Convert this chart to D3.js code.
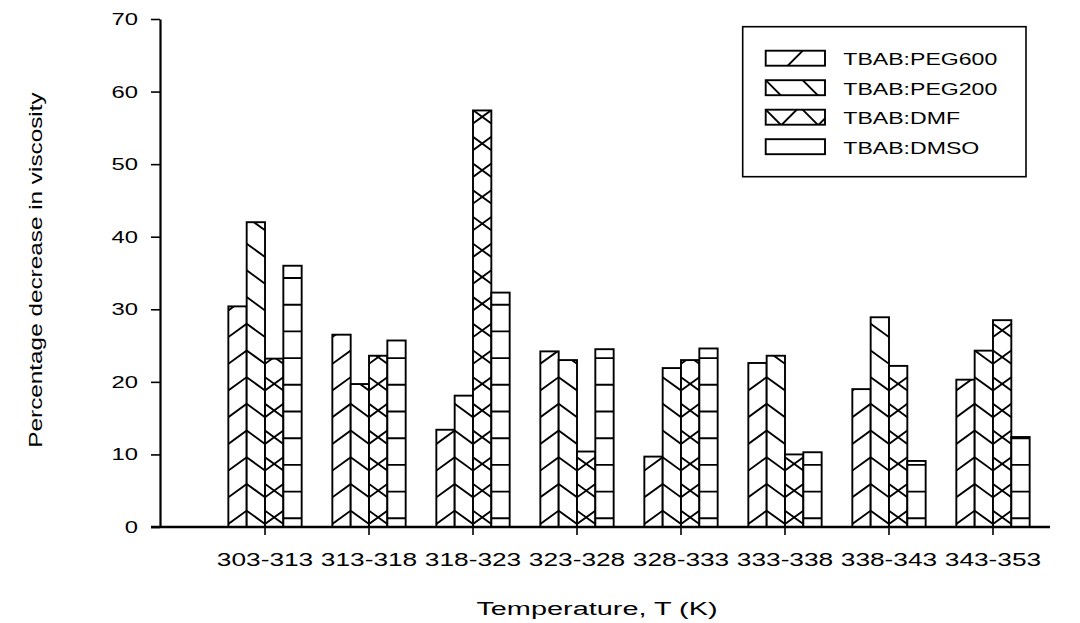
<!DOCTYPE html>
<html>
<head>
<meta charset="utf-8">
<script src="https://cdn.jsdelivr.net/npm/d3@7"></script>
<style>
  html, body { margin: 0; padding: 0; background: #fff; }
  svg { display: block; }
  text { font-family: "Liberation Sans", Arial, sans-serif; fill: #000; }
</style>
</head>
<body>
<svg id="chart" width="1080" height="623"></svg>
<script>
// Temperature intervals (K)
const categories = ["303-313", "313-318", "318-323", "323-328", "328-333", "333-338", "338-343", "343-353"];
const seriesNames = ["TBAB:PEG600", "TBAB:PEG200", "TBAB:DMF", "TBAB:DMSO"];

// Percentage decrease in viscosity per interval
const peg600 = [30.4, 26.5, 13.4, 24.2, 9.7, 22.6, 19.0, 20.3];
const peg200 = [42.0, 19.7, 18.1, 23.0, 21.9, 23.6, 28.9, 24.3];
const dmf    = [23.2, 23.6, 57.4, 10.4, 23.0, 10.0, 22.2, 28.5];
const dmso   = [36.0, 25.7, 32.3, 24.5, 24.6, 10.3, 9.1, 12.4];

const yTicks = [0, 10, 20, 30, 40, 50, 60, 70];
const hatchKinds = ["fwd", "back", "cross", "horiz"];

const seriesValues = [peg600, peg200, dmf, dmso];

const svg = d3.select("#chart");
const STROKE = 1.9;
const TXT_SX = 1.4;   // horizontal stretch of the lettering

const y = d3.scaleLinear().domain([0, 70]).range([527, 19]);
const x0 = d3.scaleBand().domain(categories).range([213, 1045])
  .paddingInner(0.295).paddingOuter(0.1476);
const x1 = d3.scaleBand().domain(seriesNames).range([0, x0.bandwidth()]).padding(0);

let clipId = 0;
function clipRect(xl, yt, w, h) {
  const id = "clip" + (clipId++);
  svg.append("clipPath").attr("id", id)
    .append("rect").attr("x", xl).attr("y", yt).attr("width", w).attr("height", h);
  return "url(#" + id + ")";
}

// offsets of a periodic line family covering [lo, hi]
function family(c0, P, lo, hi) {
  const out = [];
  const kmin = Math.floor((lo - c0) / P), kmax = Math.ceil((hi - c0) / P);
  for (let k = kmin; k <= kmax; k++) out.push(c0 + k * P);
  return out;
}

// hatch lines inside a rectangle
// opt: {slope, P, fwdC0, backC0, horizC0}
function hatch(g, kind, xl, yt, w, h, opt) {
  const yb = yt + h, s = opt.slope;
  const segs = [];
  if (kind === "fwd" || kind === "cross") {
    family(opt.fwdC0, opt.P, yt, yb + s * w).forEach(c =>
      segs.push([xl, c, xl + w, c - s * w]));
  }
  if (kind === "back" || kind === "cross") {
    family(opt.backC0, opt.P, yt - s * w, yb).forEach(c =>
      segs.push([xl, c, xl + w, c + s * w]));
  }
  if (kind === "horiz") {
    family(opt.horizC0, opt.P, yt, yb).filter(c => c > yt + 1 && c < yb - 0.5).forEach(c =>
      segs.push([xl, c, xl + w, c]));
  }
  const hg = g.append("g").attr("clip-path", clipRect(xl, yt, w, h));
  hg.selectAll("line").data(segs).join("line")
    .attr("x1", d => d[0]).attr("y1", d => d[1])
    .attr("x2", d => d[2]).attr("y2", d => d[3])
    .attr("stroke", "#000").attr("stroke-width", STROKE);
}

// ---- bars ----
const HATCH_P = 26.7;
const barsG = svg.append("g");
categories.forEach((cat, i) => {
  seriesNames.forEach((name, j) => {
    const v = seriesValues[j][i];
    const bx = x0(cat) + x1(name), bw = x1.bandwidth();
    const by = y(v), bh = y(0) - y(v);
    const g = barsG.append("g");
    g.append("rect").attr("x", bx).attr("y", by).attr("width", bw).attr("height", bh)
      .attr("fill", "#fff");
    const base = y(0) - 3;
    hatch(g, hatchKinds[j], bx, by, bw, bh, {
      slope: (HATCH_P / 2) / bw,
      P: HATCH_P,
      fwdC0: base,
      backC0: base - HATCH_P / 2,
      horizC0: y(0) - 8.7
    });
    g.append("rect").attr("x", bx).attr("y", by).attr("width", bw).attr("height", bh)
      .attr("fill", "none").attr("stroke", "#000").attr("stroke-width", STROKE);
  });
});

// ---- axes ----
const yAxis = svg.append("g").attr("transform", "translate(160,0)")
  .call(d3.axisLeft(y).tickValues(yTicks).tickSize(9).tickSizeOuter(0));
yAxis.select(".domain").attr("stroke-width", 2.2);
yAxis.selectAll(".tick line").attr("stroke-width", 1.6);
yAxis.selectAll(".tick text")
  .attr("x", -22 / TXT_SX).attr("font-size", 17)
  .attr("font-family", "Liberation Sans, Arial, sans-serif")
  .attr("transform", `scale(${TXT_SX},1)`);

const xAxis = svg.append("g").attr("transform", `translate(0,${y(0)})`)
  .call(d3.axisBottom(x0).tickSize(8).tickSizeOuter(0));
xAxis.select(".domain").remove();
xAxis.selectAll(".tick line").attr("stroke-width", 1.6);
xAxis.selectAll(".tick text")
  .attr("y", 39).attr("dy", 0).attr("font-size", 18)
  .attr("font-family", "Liberation Sans, Arial, sans-serif")
  .attr("transform", "scale(1.46,1)");
svg.append("line").attr("x1", 151).attr("x2", 1050)
  .attr("y1", y(0)).attr("y2", y(0))
  .attr("stroke", "#000").attr("stroke-width", 2.6);

// ---- axis titles ----
svg.append("text")
  .attr("transform", `translate(597,615) scale(1.52,1)`)
  .attr("text-anchor", "middle").attr("font-size", 19)
  .text("Temperature, T (K)");
svg.append("text")
  .attr("transform", `translate(42,270) rotate(-90) scale(1.28,1)`)
  .attr("text-anchor", "middle").attr("font-size", 19)
  .text("Percentage decrease in viscosity");

// ---- legend ----
const leg = svg.append("g");
leg.append("rect").attr("x", 742.7).attr("y", 26.7).attr("width", 283.3).attr("height", 150)
  .attr("fill", "#fff").attr("stroke", "#000").attr("stroke-width", 1.6);
const swOpts = [
  { fwdC0: 22 },
  { backC0: 0 },
  { fwdC0: 16, backC0: 0 },
  {}
];
seriesNames.forEach((name, j) => {
  const top = 50.7 + j * 29.5, sx = 765.7, sw = 59.3, sh = 15;
  const g = leg.append("g");
  g.append("rect").attr("x", sx).attr("y", top).attr("width", sw).attr("height", sh).attr("fill", "#fff");
  const o = swOpts[j];
  hatch(g, hatchKinds[j] === "horiz" ? "none" : hatchKinds[j], sx, top, sw, sh, {
    slope: 1, P: 37,
    fwdC0: top + sh + (o.fwdC0 || 0),
    backC0: top + (o.backC0 || 0),
    horizC0: top
  });
  g.append("rect").attr("x", sx).attr("y", top).attr("width", sw).attr("height", sh)
    .attr("fill", "none").attr("stroke", "#000").attr("stroke-width", STROKE);
  leg.append("text")
    .attr("transform", `translate(843.3,${top + 14.5}) scale(${TXT_SX},1)`)
    .attr("font-size", 16.5)
    .text(name);
});
</script>
</body>
</html>
